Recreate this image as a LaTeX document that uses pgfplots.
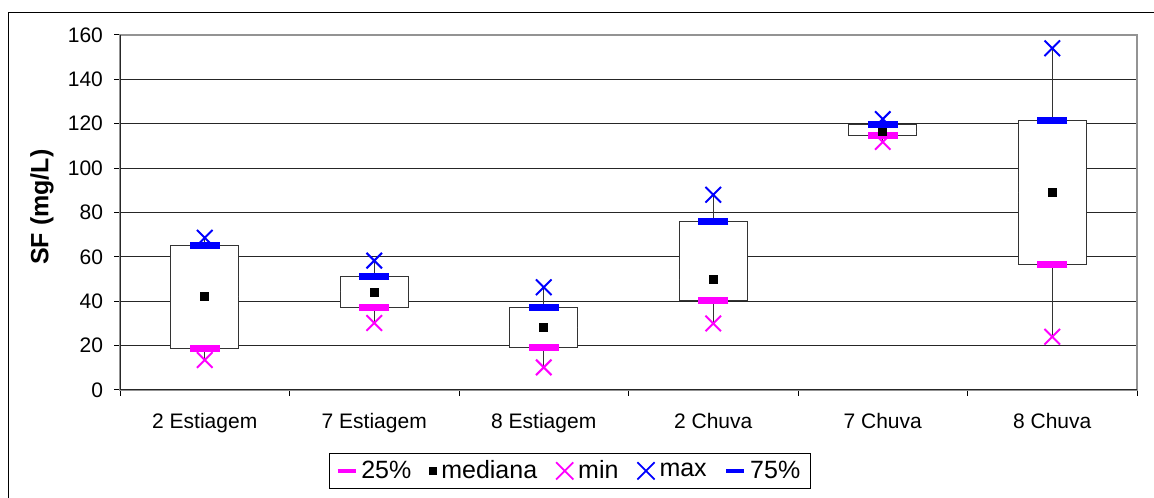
\documentclass[border=0pt]{standalone}
\usepackage{pgfplots}
\pgfplotsset{compat=1.18}
\usepackage{pgfplotstable}
\usepgfplotslibrary{statistics}
\usepackage{fontspec}
\setmainfont{Liberation Sans}
\pgfplotstableread{
x q1 med q3 min max
1 18.8 42.2 65.2 13.5 68.6
2 37.3 44.2 51.1 30.2 58.3
3 19.2 28.2 37.1 10.2 46.3
4 40.3 50.0 76.0 30.0 88.0
5 114.8 116.7 119.7 111.8 122.1
6 56.6 89.1 121.5 24.0 154.0
}\data
\definecolor{mag}{RGB}{255,0,255}
\definecolor{blu}{RGB}{0,0,255}
\begin{document}
\begin{tikzpicture}
\useasboundingbox (0,0) rectangle (577pt,248.5pt);
\draw[black, line width=0.7pt] (4.3pt,-10pt) |- (600pt,242.2pt);
\begin{axis}[
  at={(60pt,53.5pt)}, anchor=south west,
  scale only axis, width=508.5pt, height=177.5pt,
  xmin=0.5, xmax=6.5, ymin=0, ymax=160,
  ytick={0,20,...,160},
  xtick={0.5,1.5,...,6.5}, xticklabels={,,,,,,,},
  extra x ticks={1,2,3,4,5,6},
  extra x tick labels={2 Estiagem,7 Estiagem,8 Estiagem,2 Chuva,7 Chuva,8 Chuva},
  extra x tick style={major tick length=0pt, grid=none},
  xtick pos=bottom, ytick pos=left,
  tick align=outside, major tick length=3pt,
  tick style={black, line width=0.5pt},
  ymajorgrids, grid style={black!85, line width=0.5pt},
  axis line style={draw=gray!85, line width=1pt},
  /pgf/number format/assume math mode=true,
  tick label style={font=\fontsize{10.5}{12}\selectfont},
  yticklabel style={xshift=-2pt},
  xticklabel style={yshift=-8pt},
  ylabel={SF (mg/L)},
  ylabel style={font=\fontsize{12.5}{15}\selectfont\bfseries, at={(axis description cs:-0.0767,0.515)}, anchor=center},
  boxplot/draw direction=y,
  boxplot/every median/.style={draw=none},
  boxplot/box extend=0.4, boxplot/whisker extend=0,
  legend columns=-1,
  legend style={at={(axis description cs:0.4425,-0.228)}, anchor=center,
    draw=black, line width=0.5pt, font=\fontsize{12.5}{15}\selectfont,
    inner xsep=3pt, inner ysep=1.5pt,
    /tikz/every odd column/.style={column sep=0pt},
    /tikz/every even column/.style={column sep=7pt}},
]
% boxes: lower whisker, lower quartile, median, upper quartile, upper whisker (same values as \data)
\addplot[boxplot prepared={draw position=1, lower whisker=13.5, lower quartile=18.8, median=42.2, upper quartile=65.2, upper whisker=68.6},
  draw=black!80, line width=0.6pt, fill=white, forget plot] coordinates {};
\addplot[boxplot prepared={draw position=2, lower whisker=30.2, lower quartile=37.3, median=44.2, upper quartile=51.1, upper whisker=58.3},
  draw=black!80, line width=0.6pt, fill=white, forget plot] coordinates {};
\addplot[boxplot prepared={draw position=3, lower whisker=10.2, lower quartile=19.2, median=28.2, upper quartile=37.1, upper whisker=46.3},
  draw=black!80, line width=0.6pt, fill=white, forget plot] coordinates {};
\addplot[boxplot prepared={draw position=4, lower whisker=30.0, lower quartile=40.3, median=50.0, upper quartile=76.0, upper whisker=88.0},
  draw=black!80, line width=0.6pt, fill=white, forget plot] coordinates {};
\addplot[boxplot prepared={draw position=5, lower whisker=111.8, lower quartile=114.8, median=116.7, upper quartile=119.7, upper whisker=122.1},
  draw=black!80, line width=0.6pt, fill=white, forget plot] coordinates {};
\addplot[boxplot prepared={draw position=6, lower whisker=24.0, lower quartile=56.6, median=89.1, upper quartile=121.5, upper whisker=154.0},
  draw=black!80, line width=0.6pt, fill=white, forget plot] coordinates {};
\addplot[only marks, mag, mark=-, mark size=7.5pt, mark options={line width=3.5pt},
  legend image code/.code={\draw[mag, line width=1.75pt] (0pt,0pt) -- (9pt,0pt);}]
  table[x=x, y=q1] {\data};
\addlegendentry{25\%}
\addplot[only marks, black, mark=square*, mark size=2pt,
  legend image code/.code={\fill[black] (2pt,-1.75pt) rectangle (5.5pt,1.75pt);}]
  table[x=x, y=med] {\data};
\addlegendentry{mediana}
\addplot[only marks, mag, mark=x, mark size=5.5pt, mark options={line width=1pt},
  legend image code/.code={\draw[mag, line width=0.9pt] (0pt,-4.3pt) -- (8.6pt,4.3pt) (0pt,4.3pt) -- (8.6pt,-4.3pt);}]
  table[x=x, y=min] {\data};
\addlegendentry{min}
\addplot[only marks, blu, mark=x, mark size=5.5pt, mark options={line width=1pt},
  legend image code/.code={\draw[blu, line width=0.9pt] (0pt,-4.3pt) -- (8.6pt,4.3pt) (0pt,4.3pt) -- (8.6pt,-4.3pt);}]
  table[x=x, y=max] {\data};
\addlegendentry{max}
\addplot[only marks, blu, mark=-, mark size=7.5pt, mark options={line width=3.5pt},
  legend image code/.code={\draw[blu, line width=1.75pt] (0pt,0pt) -- (9pt,0pt);}]
  table[x=x, y=q3] {\data};
\addlegendentry{75\%}
\draw[black!85, line width=0.8pt] (rel axis cs:0,1) -- (rel axis cs:0,0) -- (rel axis cs:1,0);
\end{axis}
\end{tikzpicture}
\end{document}
